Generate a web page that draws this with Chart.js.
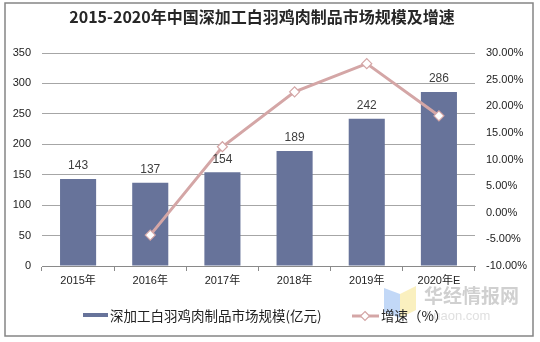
<!DOCTYPE html>
<html><head><meta charset="utf-8">
<script src="https://cdn.jsdelivr.net/npm/chart.js@4"></script>
<style>html,body{margin:0;padding:0;background:#fff;}#wrap{width:540px;height:342px;}</style>
</head><body><div id="wrap"><canvas id="c" width="540" height="342"></canvas></div>
<script>
const categories = ['2015年','2016年','2017年','2018年','2019年','2020年E'];
const marketSize = [143, 137, 154, 189, 242, 286];
const growthRate = [null, -4.2, 12.4, 22.7, 28.0, 18.2];
const titleText = '2015-2020年中国深加工白羽鸡肉制品市场规模及增速';
const barLabel = '深加工白羽鸡肉制品市场规模(亿元)';
const lineLabel = '增速（%）';

const BAR = '#67739A', LINE = '#D4A6A6';
const FONT = '"Liberation Sans", Arial, "Noto Sans CJK SC", sans-serif';
const CJK = '"Noto Sans CJK SC", sans-serif';

const deco = {
  id: 'deco',
  beforeDraw(chart) {
    const ctx = chart.ctx;
    ctx.save();
    ctx.fillStyle = '#fff';
    ctx.fillRect(0, 0, chart.width, chart.height);
    ctx.restore();
  },
  afterDatasetsDraw(chart) {
    const ctx = chart.ctx;
    ctx.save();
    const idx = chart.data.datasets.findIndex(d => d.type === 'bar');
    const meta = chart.getDatasetMeta(idx);
    ctx.font = '12px ' + FONT;
    ctx.fillStyle = '#404040';
    ctx.textAlign = 'center';
    ctx.textBaseline = 'middle';
    meta.data.forEach((el, i) => {
      ctx.fillText(String(marketSize[i]), el.x, el.y - 13);
    });
    ctx.restore();
  },
  afterDraw(chart) {
    const ctx = chart.ctx;
    ctx.save();
    ctx.strokeStyle = '#858585';
    ctx.lineWidth = 1.5;
    ctx.strokeRect(5, 3, 528, 333);
    ctx.font = 'bold 16px ' + CJK;
    ctx.fillStyle = '#262626';
    ctx.textAlign = 'center';
    ctx.textBaseline = 'middle';
    ctx.fillText(titleText, 262, 17);
    // watermark
    ctx.globalAlpha = 0.55;
    ctx.fillStyle = '#8FB8F0';
    ctx.beginPath(); ctx.moveTo(384, 288); ctx.lineTo(400, 294); ctx.lineTo(400, 318); ctx.lineTo(384, 312); ctx.closePath(); ctx.fill();
    ctx.fillStyle = '#F5E38A';
    ctx.beginPath(); ctx.moveTo(400, 294); ctx.lineTo(416, 286); ctx.lineTo(416, 310); ctx.lineTo(400, 318); ctx.closePath(); ctx.fill();
    ctx.globalAlpha = 1;
    ctx.font = 'bold 19px ' + CJK;
    ctx.fillStyle = '#D0D0D0';
    ctx.textAlign = 'left';
    ctx.fillText('华经情报网', 424, 296);
    ctx.font = '13px ' + FONT;
    ctx.fillStyle = '#E0E0E0';
    ctx.fillText('huaon.com', 426, 316);
    // legend
    ctx.fillStyle = BAR;
    ctx.fillRect(83, 313, 25, 4);
    ctx.font = '13.5px ' + CJK;
    ctx.fillStyle = '#222';
    ctx.textBaseline = 'middle';
    ctx.fillText(barLabel, 110, 316);
    ctx.strokeStyle = LINE;
    ctx.lineWidth = 3;
    ctx.beginPath(); ctx.moveTo(352, 316); ctx.lineTo(379, 316); ctx.stroke();
    ctx.fillStyle = '#fff';
    ctx.lineWidth = 1.2;
    ctx.beginPath(); ctx.moveTo(365, 311.5); ctx.lineTo(369.5, 316); ctx.lineTo(365, 320.5); ctx.lineTo(360.5, 316); ctx.closePath(); ctx.fill(); ctx.stroke();
    ctx.fillStyle = '#222';
    ctx.fillText(lineLabel, 381, 316);
    ctx.restore();
  }
};

new Chart(document.getElementById('c'), {
  data: {
    labels: categories,
    datasets: [
      { type: 'line', label: lineLabel, data: growthRate, yAxisID: 'y1', order: 0,
        borderColor: LINE, borderWidth: 3, pointStyle: 'rectRot', pointRadius: 5, pointHoverRadius: 5,
        pointBackgroundColor: '#fff', pointBorderColor: LINE, pointBorderWidth: 1.2, tension: 0, spanGaps: false },
      { type: 'bar', label: barLabel, data: marketSize, yAxisID: 'y', order: 1,
        backgroundColor: BAR, categoryPercentage: 1, barPercentage: 0.5 }
    ]
  },
  options: {
    responsive: false, animation: false, devicePixelRatio: 1,
    layout: { padding: { top: 53, left: 0, right: 0, bottom: 0 } },
    plugins: { legend: { display: false }, title: { display: false }, tooltip: { enabled: false } },
    scales: {
      x: {
        grid: { display: true, drawOnChartArea: false, offset: true, tickLength: 5, color: '#8a8a8a' },
        border: { display: true, color: '#8a8a8a' },
        ticks: { color: '#222', font: { size: 11, family: FONT }, padding: 3, maxRotation: 0 },
        afterFit(s) { s.height = 76; }
      },
      y: {
        position: 'left', min: 0, max: 350,
        ticks: { stepSize: 50, color: '#222', font: { size: 11, family: FONT }, padding: 11 },
        grid: { color: '#A6A6A6', drawTicks: false },
        border: { display: false },
        afterFit(s) { s.width = 42; }
      },
      y1: {
        position: 'right', min: -10, max: 30,
        ticks: { stepSize: 5, color: '#222', font: { size: 11, family: FONT }, padding: 11,
          callback: v => v.toFixed(2) + '%' },
        grid: { drawOnChartArea: false, drawTicks: false },
        border: { display: false },
        afterFit(s) { s.width = 65; }
      }
    }
  },
  plugins: [deco]
});
</script></body></html>
